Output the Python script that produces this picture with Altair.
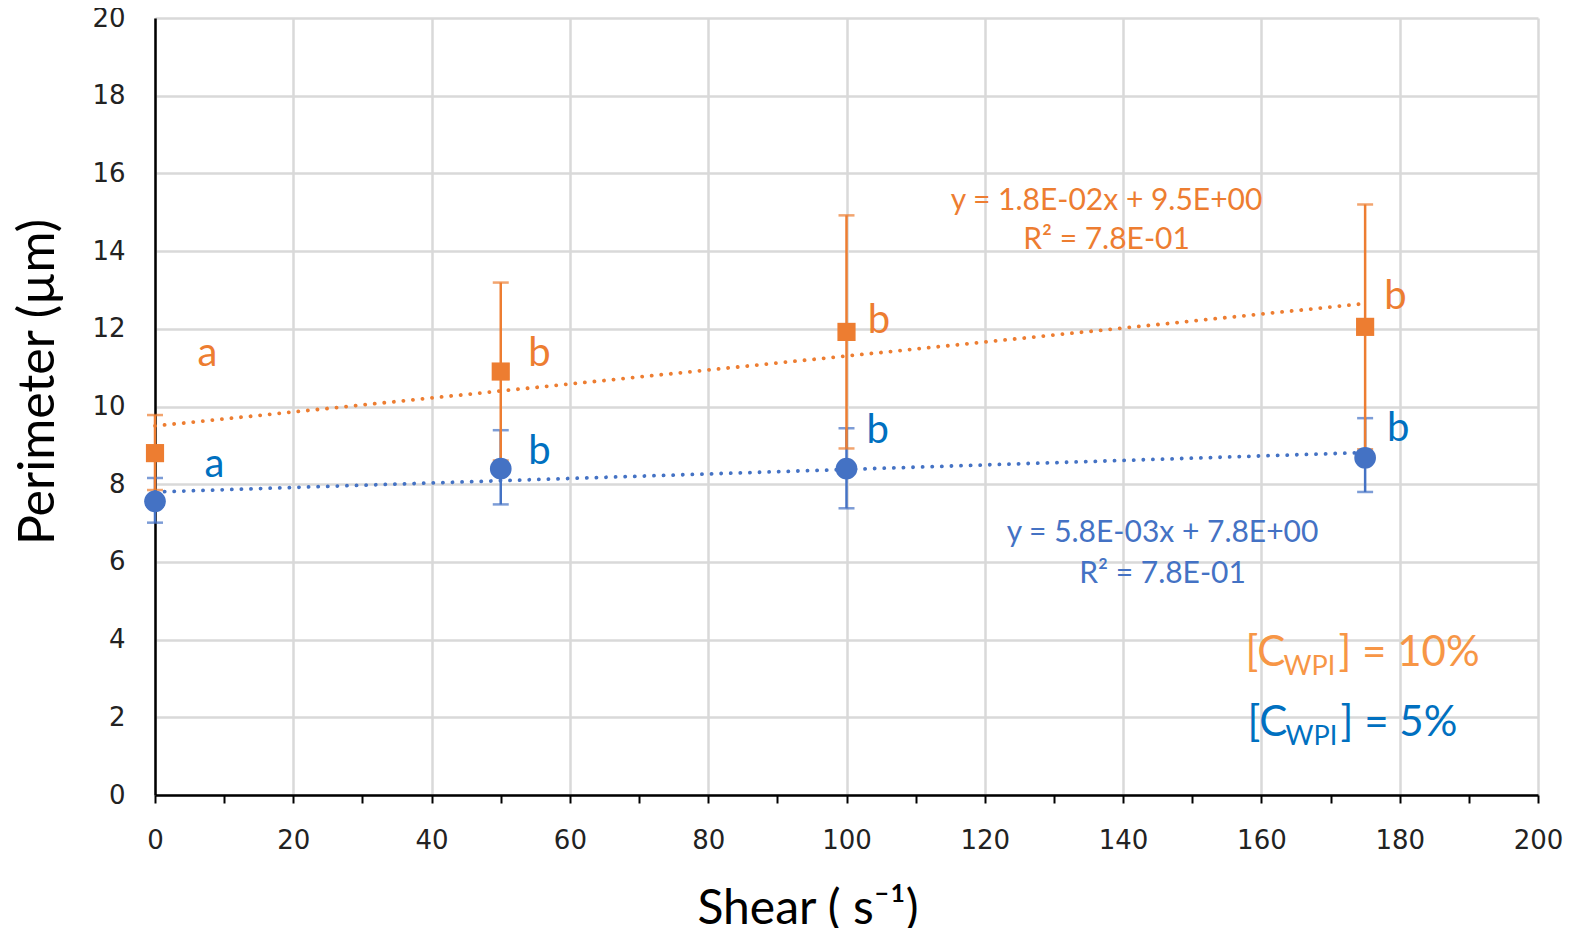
import altair as alt
import pandas as pd

# ---------------- data ----------------
shear = [0, 50, 100, 175]

orange_mean = [8.8, 10.9, 11.92, 12.05]
orange_lo = [7.85, 8.61, 8.92, 8.9]
orange_hi = [9.78, 13.19, 14.92, 15.2]

blue_mean = [7.56, 8.4, 8.4, 8.68]
blue_lo = [7.01, 7.48, 7.38, 7.8]
blue_hi = [8.16, 9.39, 9.44, 9.7]

trend_x = [0, 175]
orange_trend = [9.5, 12.65]
blue_trend = [7.8, 8.815]

orange_letters = ["a", "b", "b", "b"]
orange_letter_x = [7.6, 55.6, 104.7, 179.4]
orange_letter_y = [11.34, 11.34, 12.2, 12.83]

blue_letters = ["a", "b", "b", "b"]
blue_letter_x = [8.6, 55.6, 104.5, 179.8]
blue_letter_y = [8.5, 8.84, 9.36, 9.41]

orange_eq = ["y = 1.8E-02x + 9.5E+00", "R² = 7.8E-01"]
orange_eq_x = [137.6, 137.6]
orange_eq_y = [15.3, 14.29]

blue_eq = ["y = 5.8E-03x + 7.8E+00", "R² = 7.8E-01"]
blue_eq_x = [145.7, 145.7]
blue_eq_y = [6.75, 5.68]

legend_parts_10 = ["[C", "WPI", "] = 10%"]
legend_parts_5 = ["[C", "WPI", "] = 5%"]
legend_x = [157.7, 158.0]
legend_y = [3.65, 1.85]

x_ticks = list(range(0, 201, 10))
y_ticks = list(range(0, 21, 2))

# ---------------- colours / fonts ----------------
ORANGE = "#ED7D31"
BLUE = "#4472C4"
BLUE_TXT = "#0070C0"
ORANGE_LEG = "#F79646"
FONT = "Lato"

W, H = 1383, 777

xs = alt.Scale(domain=[0, 200], nice=False, zero=True)
ys = alt.Scale(domain=[0, 20], nice=False, zero=True)

pts = pd.DataFrame({
    "x": shear,
    "om": orange_mean, "olo": orange_lo, "ohi": orange_hi,
    "bm": blue_mean, "blo": blue_lo, "bhi": blue_hi,
})

base = alt.Chart(pts)

xaxis = alt.Axis(
    values=x_ticks,
    labelExpr="datum.value % 20 == 0 ? datum.label : ''",
    gridOpacity=alt.ExprRef("datum.value % 20 == 0 ? 1 : 0"),
    gridColor="#d9d9d9", gridWidth=2.5,
    domainColor="black", domainWidth=2.5,
    tickColor="black", tickWidth=2, tickSize=8,
    labelFont="DejaVu Sans", labelFontSize=26, labelColor="#222222",
    labelPadding=24, labelFlush=False,
    title="Shear ( s⁻¹)", titleFont=FONT, titleFontSize=48,
    titleFontWeight="normal", titleColor="black", titlePadding=32,
    titleX=W / 2 - 39,
)
yaxis = alt.Axis(
    values=y_ticks,
    gridColor="#d9d9d9", gridWidth=2.5,
    domainColor="black", domainWidth=2.5,
    ticks=False,
    labelFont="DejaVu Sans", labelFontSize=26, labelColor="#222222",
    labelPadding=30, labelFlush=False,
    title="Perimeter (µm)", titleFont=FONT, titleFontSize=50,
    titleFontWeight="normal", titleColor="black", titlePadding=28,
    titleY=H / 2 - 25,
)

grid_layer = base.mark_point(opacity=0).encode(
    x=alt.X("x:Q", scale=xs, axis=xaxis),
    y=alt.Y("om:Q", scale=ys, axis=yaxis),
)

def errbars(lo, hi, color):
    rule = base.mark_rule(color=color, strokeWidth=2.5).encode(
        x=alt.X("x:Q", scale=xs), y=alt.Y(f"{lo}:Q", scale=ys), y2=f"{hi}:Q")
    t1 = base.mark_tick(color=color, orient="horizontal", size=16, thickness=2.5).encode(
        x=alt.X("x:Q", scale=xs), y=alt.Y(f"{lo}:Q", scale=ys))
    t2 = base.mark_tick(color=color, orient="horizontal", size=16, thickness=2.5).encode(
        x=alt.X("x:Q", scale=xs), y=alt.Y(f"{hi}:Q", scale=ys))
    return rule + t1 + t2

trend = pd.DataFrame({"x": trend_x, "o": orange_trend, "b": blue_trend})
tbase = alt.Chart(trend)
o_trend = tbase.mark_line(color=ORANGE, strokeWidth=3.8, strokeDash=[0.1, 9.5],
                          strokeCap="round").encode(
    x=alt.X("x:Q", scale=xs), y=alt.Y("o:Q", scale=ys))
b_trend = tbase.mark_line(color=BLUE, strokeWidth=3.8, strokeDash=[0.1, 9.5],
                          strokeCap="round").encode(
    x=alt.X("x:Q", scale=xs), y=alt.Y("b:Q", scale=ys))

b_pts = base.mark_point(shape="circle", filled=True, size=470, color=BLUE, opacity=1).encode(
    x=alt.X("x:Q", scale=xs), y=alt.Y("bm:Q", scale=ys))
o_pts = base.mark_point(shape="square", filled=True, size=330, color=ORANGE, opacity=1).encode(
    x=alt.X("x:Q", scale=xs), y=alt.Y("om:Q", scale=ys))

def texts(labels, xv, yv, color, size, align="center"):
    df = pd.DataFrame({"t": labels, "x": xv, "y": yv})
    return alt.Chart(df).mark_text(color=color, font=FONT, fontSize=size,
                                   align=align, baseline="middle").encode(
        x=alt.X("x:Q", scale=xs), y=alt.Y("y:Q", scale=ys), text="t:N")

o_let = texts(orange_letters, orange_letter_x, orange_letter_y, ORANGE, 40)
b_let = texts(blue_letters, blue_letter_x, blue_letter_y, BLUE_TXT, 40)
o_eq = texts(orange_eq, orange_eq_x, orange_eq_y, ORANGE, 30)
b_eq = texts(blue_eq, blue_eq_x, blue_eq_y, BLUE, 30)

def legend(parts, xv, yv, color):
    df = pd.DataFrame({"x": [xv], "y": [yv]})
    c = alt.Chart(df)
    enc = dict(x=alt.X("x:Q", scale=xs), y=alt.Y("y:Q", scale=ys))
    a = c.mark_text(text=parts[0], color=color, font=FONT, fontSize=42,
                    align="left", baseline="middle").encode(**enc)
    b = c.mark_text(text=parts[1], color=color, font=FONT, fontSize=27,
                    align="left", baseline="middle", dx=38, dy=14).encode(**enc)
    d = c.mark_text(text=parts[2], color=color, font=FONT, fontSize=42,
                    align="left", baseline="middle", dx=93).encode(**enc)
    return a + b + d

leg10 = legend(legend_parts_10, legend_x[0], legend_y[0], ORANGE_LEG)
leg5 = legend(legend_parts_5, legend_x[1], legend_y[1], BLUE_TXT)

chart = alt.layer(
    grid_layer,
    errbars("blo", "bhi", BLUE),
    errbars("olo", "ohi", ORANGE),
    o_trend, b_trend,
    b_pts, o_pts,
    o_let, b_let, o_eq, b_eq, leg10, leg5,
).properties(
    width=W, height=H,
    autosize=alt.AutoSizeParams(type="none"),
    padding={"left": 147, "top": 10, "right": 42, "bottom": 133},
    background="white",
).configure_view(stroke=None)

chart.save("out.html", embed_options={"renderer": "svg", "actions": False})
